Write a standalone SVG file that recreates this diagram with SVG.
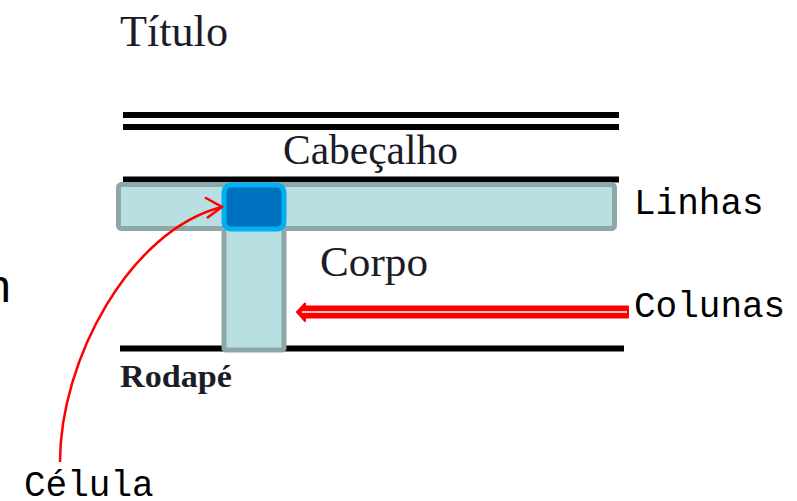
<svg xmlns="http://www.w3.org/2000/svg" width="797" height="501" viewBox="0 0 797 501">
<style>
.rule{stroke:#000;stroke-width:6;fill:none}
.band{fill:#b8dfe2;stroke:#8ea8aa;stroke-width:5}
.serif{font-family:"Liberation Serif","Times New Roman",serif;fill:#1c1c28}
.mono{font-family:"Liberation Mono","Courier New",monospace;font-size:36px;fill:#000}
.red{stroke:#ff0000;fill:none}
</style>
<rect width="797" height="501" fill="#fff"/>
<text x="11" y="302" text-anchor="end" font-family="Liberation Sans, Arial, sans-serif" font-size="47" fill="#000">n</text>
<g id="titulo"><text class="serif" x="120" y="46" font-size="44" textLength="108" lengthAdjust="spacingAndGlyphs">Título</text></g>
<g id="cabecalho">
<line class="rule" x1="123" y1="115" x2="619" y2="115"/>
<line class="rule" x1="123" y1="127" x2="619" y2="127"/>
<text class="serif" x="283" y="164" font-size="42" textLength="175" lengthAdjust="spacingAndGlyphs">Cabeçalho</text>
<line class="rule" x1="123" y1="179.5" x2="619" y2="179.5"/>
</g>
<g id="rodape">
<line class="rule" x1="120" y1="348.5" x2="624" y2="348.5"/>
<text class="serif" x="120" y="387" font-size="31" font-weight="bold" textLength="112" lengthAdjust="spacingAndGlyphs">Rodapé</text>
</g>
<g id="linha"><rect class="band" x="118.5" y="184.5" width="496" height="44" rx="3"/></g>
<g id="coluna"><rect class="band" x="224" y="226" width="60" height="124" rx="2"/></g>
<g id="celula"><rect x="224" y="185" width="60" height="44" rx="7" fill="#0070c0" stroke="#00b0f0" stroke-width="5"/></g>
<g id="corpo"><text class="serif" x="320" y="276" font-size="42" textLength="108" lengthAdjust="spacingAndGlyphs">Corpo</text></g>
<g id="connectors">
<path class="red" stroke-width="2.5" d="M60,462 C60,360 130,230 222,207"/>
<path class="red" stroke-width="2.5" d="M205,197.5 L222,207 L207,218"/>
<path fill="#ff0000" stroke="#ff0000" stroke-width="2" stroke-linejoin="round" d="M297,312 L305,303.5 L305,306.5 L628,306.5 L628,317.5 L305,317.5 L305,321 Z"/>
<path stroke="#fff" stroke-width="1.6" fill="none" d="M302,312 L627,312"/>
</g>
<g id="labels">
<text class="mono" x="634" y="214">Linhas</text>
<text class="mono" x="634" y="317">Colunas</text>
<text class="mono" x="24" y="496">Célula</text>
</g>
</svg>
